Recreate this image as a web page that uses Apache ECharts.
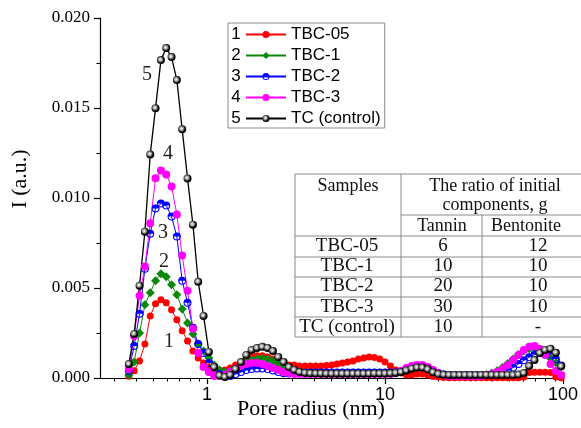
<!DOCTYPE html>
<html><head><meta charset="utf-8">
<script src="https://cdn.jsdelivr.net/npm/echarts@6/dist/echarts.min.js"></script>
<style>html,body{margin:0;padding:0;background:#fff}#c{width:581px;height:428px}</style>
</head><body><div id="c"></div>
<script>
// Pore radius (nm)
const radius = [0.363,0.389,0.417,0.447,0.479,0.513,0.550,0.589,0.631,0.676,
0.724,0.776,0.832,0.891,0.955,1.023,1.096,1.175,1.259,1.349,
1.445,1.549,1.660,1.778,1.905,2.042,2.188,2.344,2.512,2.692,
2.884,3.090,3.311,3.548,3.802,4.074,4.365,4.677,5.012,5.370,
5.754,6.166,6.607,7.079,7.586,8.128,8.710,9.333,10.00,10.72,
11.48,12.30,13.18,14.13,15.14,16.22,17.38,18.62,19.95,21.38,
22.91,24.55,26.30,28.18,30.20,32.36,34.67,37.15,39.81,42.66,
45.71,48.98,52.48,56.23,60.26,64.57,69.18,74.13,79.43,85.11,
91.20,97.72];

// I (a.u.)
const tbc05 = [0.00010,0.00040,0.00095,0.00189,0.00345,0.00412,0.00435,0.00418,0.00379,0.00323,
0.00262,0.00206,0.00150,0.00111,0.00084,0.00061,0.00050,0.00042,0.00045,0.00056,
0.00072,0.00089,0.00106,0.00117,0.00123,0.00123,0.00117,0.00106,0.00095,0.00084,
0.00072,0.00072,0.00067,0.00067,0.00067,0.00067,0.00067,0.00070,0.00072,0.00078,
0.00084,0.00089,0.00095,0.00106,0.00111,0.00117,0.00114,0.00106,0.00089,0.00067,
0.00045,0.00028,0.00017,0.00017,0.00022,0.00022,0.00017,0.00008,0.00005,0.00003,
0.00002,0.00002,0.00002,0.00002,0.00002,0.00002,0.00002,0.00002,0.00002,0.00002,
0.00002,0.00002,0.00002,0.00002,0.00005,0.00030,0.00032,0.00032,0.00032,0.00030,
0.00005,0.00002];

const tbc1 = [0.00017,0.00089,0.00250,0.00407,0.00474,0.00540,0.00579,0.00563,0.00518,0.00462,
0.00384,0.00306,0.00245,0.00189,0.00150,0.00111,0.00072,0.00045,0.00033,0.00038,
0.00052,0.00070,0.00088,0.00100,0.00107,0.00110,0.00105,0.00095,0.00080,0.00062,
0.00047,0.00037,0.00031,0.00028,0.00028,0.00028,0.00028,0.00028,0.00028,0.00028,
0.00028,0.00028,0.00028,0.00028,0.00028,0.00028,0.00028,0.00028,0.00028,0.00028,
0.00030,0.00038,0.00052,0.00064,0.00070,0.00070,0.00060,0.00042,0.00028,0.00020,
0.00015,0.00015,0.00015,0.00015,0.00015,0.00015,0.00015,0.00020,0.00028,0.00040,
0.00058,0.00080,0.00105,0.00130,0.00150,0.00162,0.00166,0.00160,0.00140,0.00110,
0.00085,0.00062];

const tbc2 = [0.00039,0.00178,0.00357,0.00607,0.00802,0.00942,0.00969,0.00958,0.00897,0.00786,
0.00540,0.00418,0.00279,0.00189,0.00139,0.00084,0.00045,0.00022,0.00011,0.00011,
0.00022,0.00033,0.00044,0.00050,0.00053,0.00053,0.00050,0.00042,0.00033,0.00027,
0.00025,0.00030,0.00030,0.00030,0.00030,0.00030,0.00030,0.00030,0.00030,0.00030,
0.00030,0.00030,0.00030,0.00030,0.00030,0.00030,0.00030,0.00030,0.00030,0.00030,
0.00032,0.00038,0.00048,0.00058,0.00062,0.00060,0.00050,0.00036,0.00026,0.00020,
0.00016,0.00016,0.00016,0.00016,0.00016,0.00016,0.00016,0.00016,0.00018,0.00022,
0.00030,0.00042,0.00058,0.00078,0.00098,0.00115,0.00130,0.00140,0.00142,0.00130,
0.00105,0.00070];

const tbc3 = [0.00050,0.00234,0.00457,0.00620,0.00860,0.01110,0.01153,0.01131,0.01064,0.00908,
0.00680,0.00485,0.00273,0.00139,0.00061,0.00033,0.00011,0.00011,0.00017,0.00033,
0.00050,0.00067,0.00078,0.00084,0.00084,0.00078,0.00067,0.00056,0.00045,0.00033,
0.00028,0.00022,0.00022,0.00022,0.00022,0.00022,0.00022,0.00022,0.00022,0.00022,
0.00022,0.00022,0.00022,0.00022,0.00022,0.00022,0.00022,0.00022,0.00022,0.00022,
0.00028,0.00039,0.00056,0.00067,0.00072,0.00072,0.00061,0.00045,0.00028,0.00017,
0.00011,0.00011,0.00011,0.00011,0.00011,0.00011,0.00011,0.00017,0.00022,0.00033,
0.00050,0.00072,0.00100,0.00128,0.00156,0.00173,0.00178,0.00161,0.00128,0.00078,
0.00039,0.00017];

const tc = [0.00078,0.00245,0.00513,0.00813,0.01242,0.01499,0.01766,0.01833,0.01783,0.01655,
0.01382,0.01109,0.00852,0.00535,0.00345,0.00145,0.00061,0.00014,0.00006,0.00017,
0.00050,0.00089,0.00128,0.00156,0.00167,0.00173,0.00167,0.00150,0.00117,0.00089,
0.00061,0.00045,0.00033,0.00028,0.00026,0.00025,0.00025,0.00024,0.00024,0.00024,
0.00024,0.00024,0.00024,0.00024,0.00024,0.00024,0.00025,0.00025,0.00025,0.00026,
0.00028,0.00033,0.00042,0.00052,0.00058,0.00058,0.00048,0.00032,0.00022,0.00018,
0.00017,0.00017,0.00017,0.00017,0.00017,0.00017,0.00017,0.00017,0.00017,0.00017,
0.00017,0.00017,0.00017,0.00019,0.00028,0.00067,0.00100,0.00139,0.00156,0.00162,
0.00140,0.00065];

const seriesNames = ['TBC-05','TBC-1','TBC-2','TBC-3','TC (control)'];
const seriesNumbers = ['1','2','3','4','5'];
const xMajorTicks = [1, 10, 100];
const xMinorTicks = [0.3,0.4,0.5,0.6,0.7,0.8,0.9,2,3,4,5,6,7,8,9,20,30,40,50,60,70,80,90];
const xMin = 0.25, xMax = 100;
const yMin = 0, yMax = 0.02, yStep = 0.005;

const tableHeader = ['Samples','The ratio of initial','components, g','Tannin','Bentonite'];
const tableSamples = ['TBC-05','TBC-1','TBC-2','TBC-3','TC (control)'];
const tableTannin = ['6','10','20','30','10'];
const tableBentonite = ['12','10','10','10','-'];

const L = r => Math.log10(r);
const pts = vals => radius.map((r, i) => [L(r), vals[i]]);

const halfCircle = 'path://M-1,0 A1,1 0 0,1 1,0 Z M-1,0 A1,1 0 0,0 1,0 L0.72,0 A0.72,0.72 0 0,1 -0.72,0 Z';
const ball = {type:'radial', x:0.42, y:0.42, r:0.6, colorStops:[{offset:0,color:'#ffffff'},{offset:0.35,color:'#aaaaaa'},{offset:0.75,color:'#000000'},{offset:1,color:'#000000'}]};

const defs = [
  {values: tbc05, color:'#ff0000', fill:'#ff0000', symbol:'circle', size:7, lw:1},
  {values: tbc1, color:'#0b870b', fill:'#0b870b', symbol:'diamond', size:9, lw:1},
  {values: tbc2, color:'#0000ff', fill:'#0000ff', symbol:halfCircle, size:8, lw:1},
  {values: tbc3, color:'#ff00ff', fill:'#ff00ff', symbol:'circle', size:8, lw:1},
  {values: tc, color:'#000000', fill:ball, symbol:'circle', size:8, lw:1.3}
];

const series = defs.map((d, i) => ({
  type:'line', name: seriesNames[i], data: pts(d.values),
  xAxisIndex:0, yAxisIndex:0,
  symbol: d.symbol, symbolSize: d.size, showAllSymbol:true,
  lineStyle:{color:d.color, width:d.lw},
  itemStyle:{color:d.fill, borderWidth:0},
  animation:false, silent:true, clip:false
}));

const serif = 'Liberation Serif';
const sans = 'Liberation Sans';

const graphic = [];
// axis titles
graphic.push({type:'text', x:311, y:409, style:{text:'Pore radius (nm)', font:'22px "'+serif+'"', fill:'#000', align:'center', verticalAlign:'middle'}});
graphic.push({type:'text', x:20, y:179, rotation:Math.PI/2, style:{text:'I (a.u.)', font:'22px "'+serif+'"', fill:'#000', align:'center', verticalAlign:'middle'}});
// curve numbers
const numPos = [[169,342],[164,262],[163,233],[168,154],[147,75]];
numPos.forEach((p, i) => graphic.push({type:'text', x:p[0], y:p[1], z:50, style:{text:seriesNumbers[i], font:'20px "'+serif+'"', fill:'#222', align:'center', verticalAlign:'middle'}}));
// legend numbers
seriesNumbers.forEach((n, i) => graphic.push({type:'text', x:236, y:34.5 + 21*i, z:60, style:{text:n, font:'17px "'+sans+'"', fill:'#000', align:'center', verticalAlign:'middle'}}));

// table
const tX0 = 295, tX1 = 401, tX2 = 482, tXE = 600, tY0 = 174, tYsub = 215;
const rowLines = [236, 257, 277, 297, 317, 337];
graphic.push({type:'rect', z:70, shape:{x:tX0, y:tY0, width:tXE - tX0, height:rowLines[5] - tY0}, style:{fill:'#fff', stroke:'#8a8a8a', lineWidth:1}});
const ln = (x1,y1,x2,y2) => graphic.push({type:'line', z:71, shape:{x1,y1,x2,y2}, style:{stroke:'#8a8a8a', lineWidth:1}});
ln(tX1, tY0, tX1, rowLines[5]);
ln(tX2, tYsub, tX2, rowLines[5]);
ln(tX1, tYsub, tXE, tYsub);
rowLines.slice(0,5).forEach(y => ln(tX0, y, tXE, y));
const tt = (s, x, y, fs) => graphic.push({type:'text', z:72, x, y, style:{text:s, font:(fs||18)+'px "'+serif+'"', fill:'#111', align:'center', verticalAlign:'middle'}});
tt(tableHeader[0], 348, 186);
tt(tableHeader[1], 495, 186);
tt(tableHeader[2], 495, 205);
tt(tableHeader[3], 442, 226);
tt(tableHeader[4], 526, 226);
tableSamples.forEach((s, i) => {
  const y = 246 + i*20.2;
  tt(s, 347, y, 19); tt(tableTannin[i], 443, y, 19); tt(tableBentonite[i], 538, y, 19);
});

const axisColor = '#000';
const option = {
  backgroundColor:'#fff',
  animation:false,
  grid:{left:100, right:18, top:18, bottom:50},
  legend:{
    orient:'vertical', left:228, top:23, padding:[3,4,1,17],
    itemWidth:40, itemHeight:9, itemGap:4,
    borderColor:'#8a8a8a', borderWidth:1, backgroundColor:'#fff',
    selectedMode:false, z:40,
    textStyle:{fontFamily:sans, fontSize:17, color:'#000'},
    data: seriesNames
  },
  xAxis:[
    {type:'value', min:L(xMin), max:L(xMax), position:'bottom',
     axisLine:{show:true, onZero:false, lineStyle:{color:axisColor, width:1.2}},
     axisTick:{show:true, customValues: xMajorTicks.map(L), length:6, lineStyle:{color:axisColor, width:1.2}},
     axisLabel:{show:true, customValues: xMajorTicks.map(L), formatter: v => String(Math.round(Math.pow(10, v))), fontFamily:sans, fontSize:18, color:'#000', margin:8},
     splitLine:{show:false}},
    {type:'value', min:L(xMin), max:L(xMax), position:'bottom',
     axisLine:{show:false, onZero:false},
     axisTick:{show:true, customValues: xMinorTicks.map(L), length:3.5, lineStyle:{color:axisColor, width:1}},
     axisLabel:{show:false}, splitLine:{show:false}}
  ],
  yAxis:{type:'value', min:yMin, max:yMax, interval:yStep,
    axisLine:{show:true, onZero:false, lineStyle:{color:axisColor, width:1.2}},
    axisTick:{show:true, length:6, lineStyle:{color:axisColor, width:1.2}},
    minorTick:{show:true, splitNumber:2, length:3.5, lineStyle:{color:axisColor, width:1}},
    axisLabel:{formatter: v => v.toFixed(3), fontFamily:serif, fontSize:17, color:'#000', margin:10},
    splitLine:{show:false}, minorSplitLine:{show:false}},
  series,
  graphic
};
const chart = echarts.init(document.getElementById('c'));
chart.setOption(option);
</script></body></html>
